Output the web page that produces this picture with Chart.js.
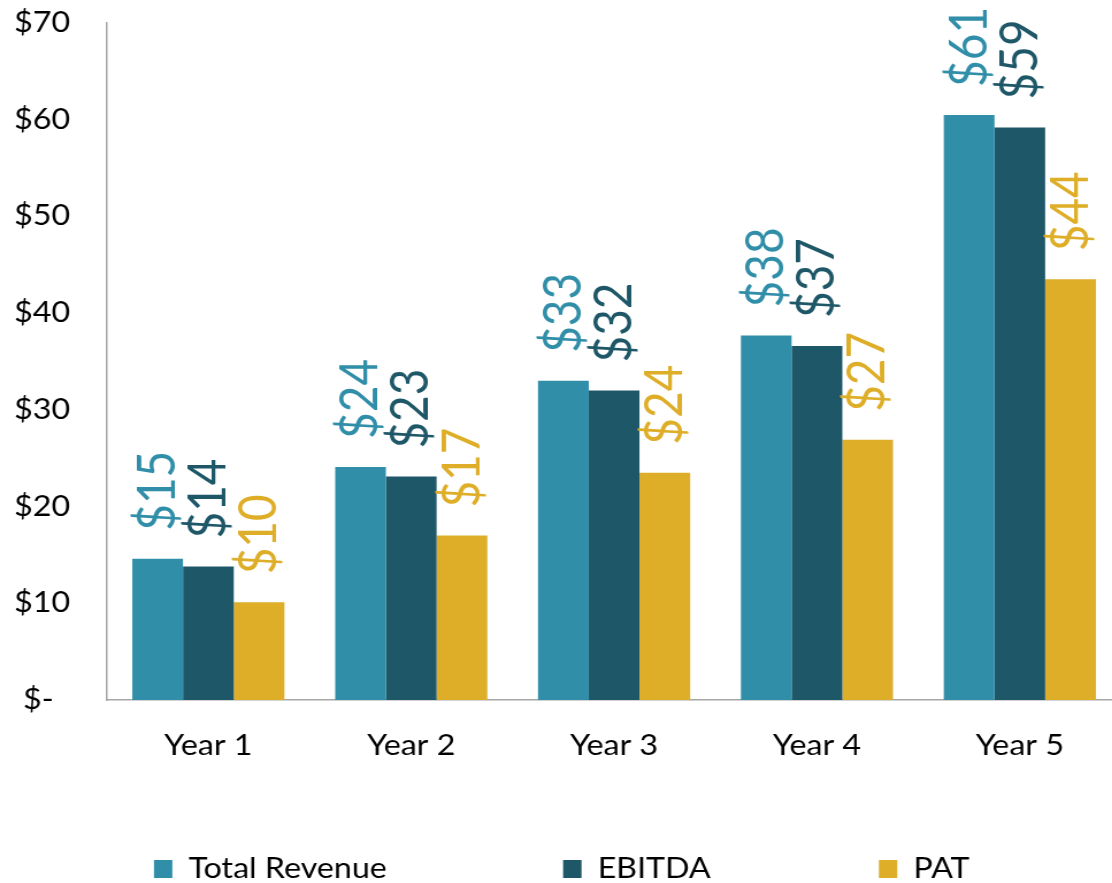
<!DOCTYPE html>
<html>
<head>
<meta charset="utf-8">
<script src="https://cdn.jsdelivr.net/npm/chart.js@4.4.1/dist/chart.umd.min.js"></script>
<style>
html, body { margin: 0; padding: 0; background: #fff; overflow: hidden; }
#wrap { width: 975px; height: 883px; transform: scaleX(1.15); transform-origin: 0 0; }
</style>
</head>
<body>
<div id="wrap"><canvas id="chart"></canvas></div>
<script>
const years = ["Year 1", "Year 2", "Year 3", "Year 4", "Year 5"];
const seriesNames = ["Total Revenue", "EBITDA", "PAT"];
const totalRevenue = [14.6, 24.1, 33.0, 37.7, 60.5];
const ebitda = [13.8, 23.1, 32.0, 36.6, 59.2];
const pat = [10.1, 17.0, 23.5, 26.9, 43.5];
const yTicks = [0, 10, 20, 30, 40, 50, 60, 70];

const colors = ["#308ea8", "#1e5767", "#deae29"];
const legendSpaces = [20, 19, 17];
const axisGrey = "#a6a6a6";

// rotated value labels above each bar
const valueLabels = {
    id: "valueLabels",
    afterDatasetsDraw(chart) {
        const ctx = chart.ctx;
        ctx.save();
        ctx.font = "400 46px Lato";
        ctx.textAlign = "left";
        ctx.textBaseline = "middle";
        chart.data.datasets.forEach((ds, i) => {
            chart.getDatasetMeta(i).data.forEach((bar, j) => {
                ctx.save();
                ctx.translate(bar.x, bar.y - 28);
                ctx.rotate(-Math.PI / 2);
                ctx.fillStyle = ds.backgroundColor;
                ctx.fillText("$" + Math.round(ds.data[j]), 0, 0);
                ctx.restore();
            });
        });
        ctx.restore();
    }
};

function makeDataset(label, data, color) {
    return {
        label: label,
        data: data,
        backgroundColor: color,
        borderWidth: 0,
        categoryPercentage: 0.75,
        barPercentage: 1.0
    };
}

new Chart(document.getElementById("chart").getContext("2d"), {
    type: "bar",
    data: {
        labels: years,
        datasets: [
            makeDataset(seriesNames[0], totalRevenue, colors[0]),
            makeDataset(seriesNames[1], ebitda, colors[1]),
            makeDataset(seriesNames[2], pat, colors[2])
        ]
    },
    options: {
        responsive: true,
        maintainAspectRatio: false,
        animation: false,
        layout: { padding: { top: 23, right: 0, left: 0, bottom: -10 } },
        scales: {
            x: {
                grid: { display: false, drawTicks: false },
                border: { display: true, color: axisGrey, width: 1.5 },
                ticks: { color: "#000", font: { family: "Lato", size: 28 }, padding: 29 },
                afterFit: s => {
                    s.height = 145;
                    s.paddingLeft = 0;
                    s.paddingRight = 0;
                }
            },
            y: {
                min: 0,
                max: 70,
                grid: { display: false, drawTicks: false },
                border: { display: true, color: axisGrey, width: 1.5 },
                afterBuildTicks: s => { s.ticks = yTicks.map(v => ({ value: v })); },
                ticks: {
                    color: "#000",
                    font: { family: "Lato", size: 28 },
                    padding: 32,
                    callback: v => v === 0 ? "$-  " : "$" + v
                },
                afterFit: s => {
                    s.width = 93;
                    s.paddingTop = 0;
                    s.paddingBottom = 0;
                }
            }
        },
        plugins: {
            tooltip: { enabled: false },
            legend: {
                position: "bottom",
                align: "end",
                labels: {
                    color: "#000",
                    font: { family: "Lato", size: 28 },
                    boxWidth: 16,
                    boxHeight: 18,
                    padding: 10,
                    generateLabels: chart => {
                        const items = Chart.defaults.plugins.legend.labels.generateLabels(chart);
                        items.forEach((it, i) => { it.text = it.text + " ".repeat(legendSpaces[i]); });
                        return items;
                    }
                }
            }
        }
    },
    plugins: [valueLabels]
});
</script>
</body>
</html>
